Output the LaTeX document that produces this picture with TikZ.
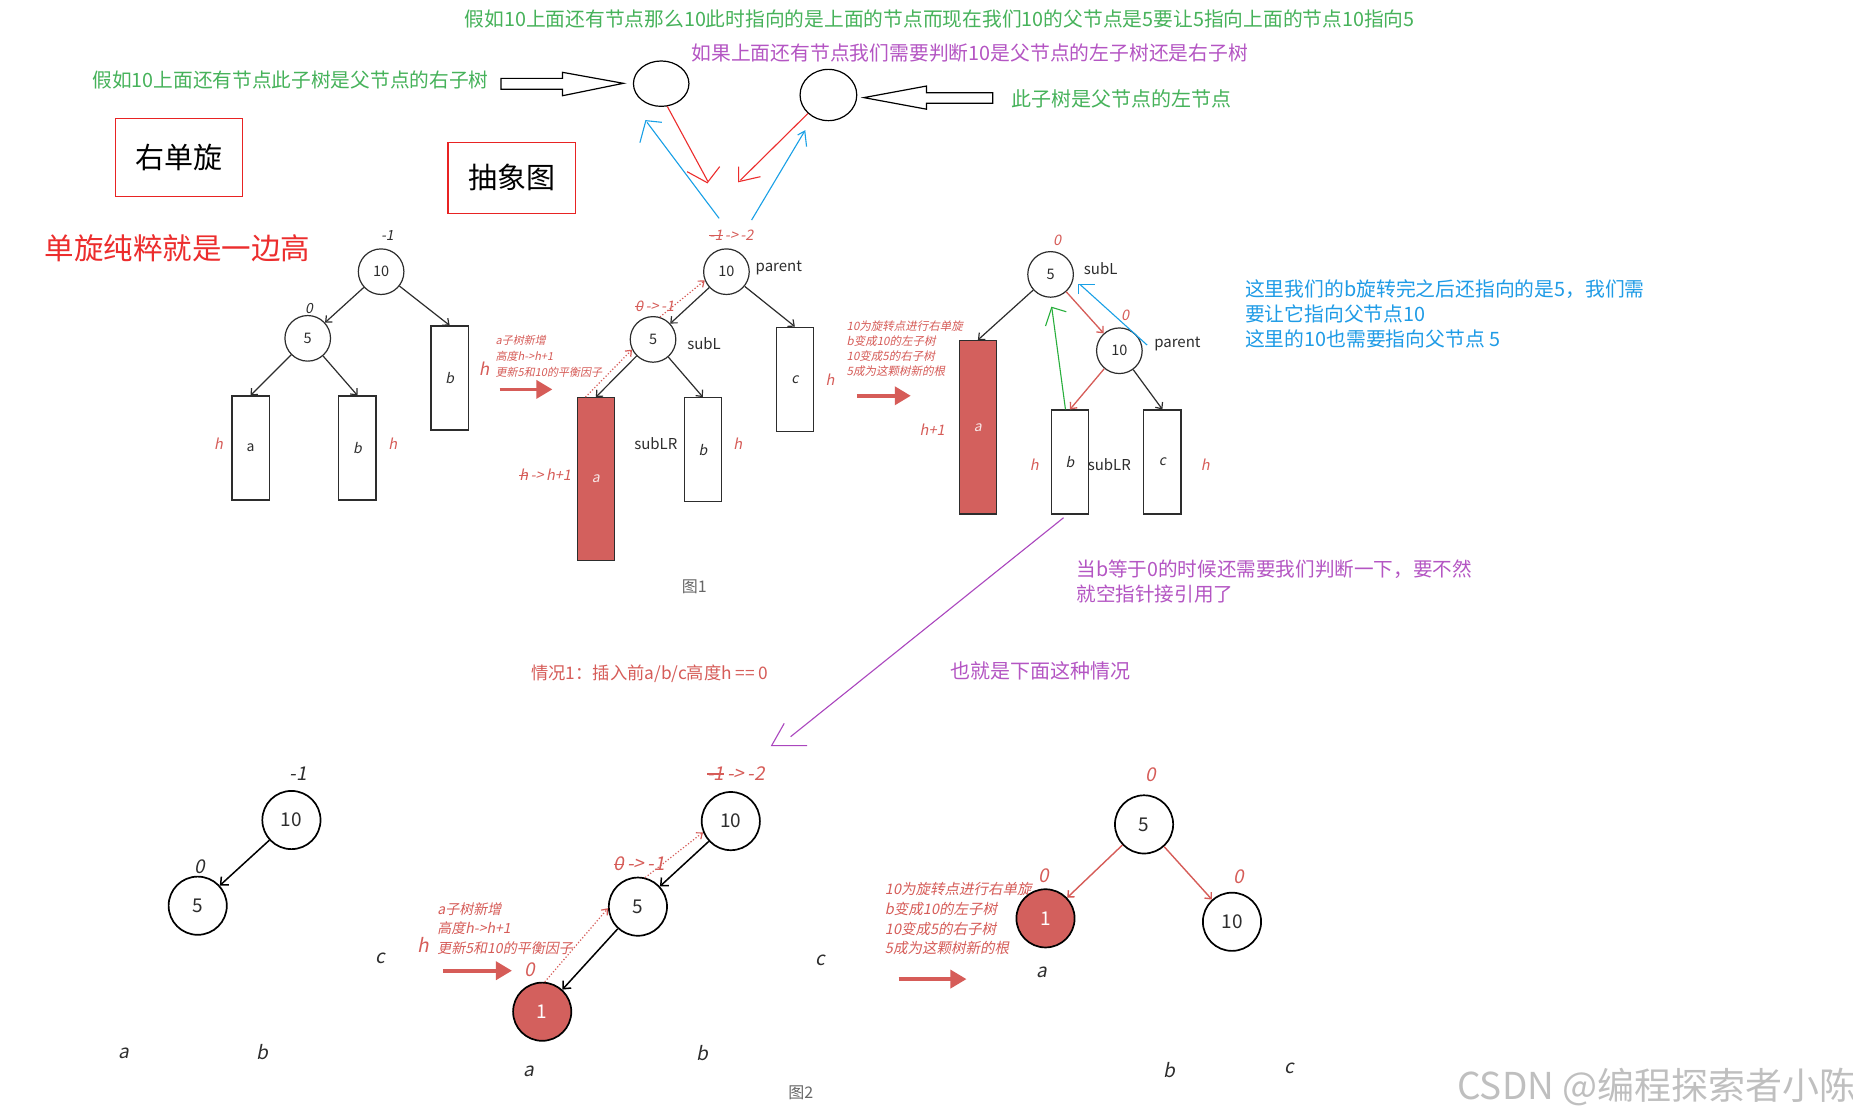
\documentclass[tikz,border=0pt]{standalone}
\usepackage{fontspec}
\setmainfont{Noto Sans CJK SC}
\newfontfamily\cjk{Noto Sans CJK SC}
\newfontfamily\cjkit[FakeSlant=0.2]{Noto Sans CJK SC}
\usetikzlibrary{arrows.meta,shapes.geometric,calc}
\newcommand\myfs[2]{\fontsize{#1}{#2}\selectfont}
\newsavebox\strkbox
\newcommand\strk[1]{\sbox\strkbox{#1}\rlap{\rule[0.3em]{\wd\strkbox}{0.07em}}\usebox\strkbox}
\definecolor{tgreen}{RGB}{70,178,90}
\definecolor{tpurple}{RGB}{180,85,195}
\definecolor{tblue}{RGB}{30,155,230}
\definecolor{bred}{RGB}{232,35,35}
\definecolor{sal}{RGB}{214,92,88}
\definecolor{salfill}{RGB}{211,96,93}
\definecolor{dk}{RGB}{45,45,45}
\definecolor{lgreen}{RGB}{40,175,60}
\definecolor{lpurple}{RGB}{170,70,190}
\definecolor{lblue}{RGB}{25,160,230}
\definecolor{lred}{RGB}{236,45,45}
\tikzset{
  tc/.style={circle,draw=dk,line width=1.2pt,minimum size=45.6pt,inner sep=0pt,font=\cjk\myfs{14.5}{14.5},text=dk},
  bc/.style={circle,draw=black,line width=1.7pt,minimum size=58.2pt,inner sep=0pt,font=\cjk\myfs{19}{19},text=dk},
  rc/.style={bc,fill=salfill,text=white},
  tb/.style={rectangle,draw=dk,line width=1.3pt,minimum width=37.3pt,minimum height=104pt,inner sep=0pt,font=\cjkit\myfs{14}{14},text=dk},
  rb/.style={tb,fill=salfill,text=white!85!salfill},
  lab/.style={inner sep=0pt,font=\cjk\myfs{15}{15},text=dk},
  ilab/.style={inner sep=0pt,font=\cjkit\myfs{14}{14},text=dk},
  blab/.style={inner sep=0pt,font=\cjkit\myfs{19}{19},text=dk},
  rlab/.style={inner sep=0pt,font=\cjkit\myfs{14.5}{14.5},text=sal},
  brlab/.style={inner sep=0pt,font=\cjkit\myfs{19}{19},text=sal},
  note/.style={inner sep=0pt,anchor=west,align=left,font=\cjk\myfs{20}{25}},
  smallred/.style={inner sep=0pt,anchor=west,align=left,text=sal},
  tarrow/.style={draw=dk,line width=1.2pt,-{Straight Barb[length=5pt,width=9pt]}},
  tarrowb/.style={draw=black,line width=1.5pt,-{Straight Barb[length=6pt,width=11pt]}},
  rarrow/.style={draw=sal,line width=1.3pt,-{Straight Barb[length=5pt,width=9pt]}},
  dotarrow/.style={draw=sal,line width=1.2pt,dotted,-{Straight Barb[length=5pt,width=8pt]}},
  fatarrow/.style={draw=sal,line width=3.6pt,-{Triangle[length=16pt,width=18pt]}},
  hand/.style={line width=1.1pt},
}
\begin{document}
\begin{tikzpicture}[x=1.1818pt,y=-1.1818pt]
\fill[white] (0,0) rectangle (1568,947.7);
\useasboundingbox (0,0) rectangle (1568,947.7);

% ---------- top annotations ----------
\node[note,text=tgreen,font=\cjk\myfs{19.75}{25}] (t1) at (393,16) {假如10上面还有节点那么10此时指向的是上面的节点而现在我们10的父节点是5要让5指向上面的节点10指向5};
\node[note,text=tpurple,font=\cjk\myfs{19.8}{25}] (t2) at (585,45) {如果上面还有节点我们需要判断10是父节点的左子树还是右子树};
\node[note,text=tgreen,font=\cjk\myfs{19.7}{25}] (t3) at (78,68) {假如10上面还有节点此子树是父节点的右子树};
\node[note,text=tgreen] (t4) at (856,84) {此子树是父节点的左节点};

\node[ellipse,draw=black,line width=1.2pt,minimum width=55.5pt,minimum height=45.4pt,inner sep=0pt] (eL) at (559.5,70.8) {};
\node[ellipse,draw=black,line width=1.2pt,minimum width=56.7pt,minimum height=51.3pt,inner sep=0pt] (eR) at (701,80.4) {};

\draw[line width=1.2pt] (424,66.3) -- (476,66.3) -- (476,61.2) -- (527.5,70.5) -- (476,81) -- (476,75.6) -- (424,75.6) -- cycle;
\draw[line width=1.2pt] (840,78.4) -- (784,78.4) -- (784,72.8) -- (731,82.6) -- (784,92.4) -- (784,87.4) -- (840,87.4) -- cycle;

% blue pointers
\coordinate (bl1s) at (608.5,184.8);
\coordinate (bl1e) at (547.5,103.5);
\draw[lblue,hand] (bl1s) -- (bl1e);
\draw[lblue,hand] (541.5,120.7) -- (546.5,102.1) -- (560,103.5);
\coordinate (bl2s) at (636,186.2);
\coordinate (bl2e) at (680.5,111.6);
\draw[lblue,hand] (bl2s) -- (bl2e);
\draw[lblue,hand] (675,114.2) -- (681,110.9) -- (682.5,124.1);
% red pointers
\coordinate (rl1e) at (599,153.5);
\draw[lred,hand] (eL.285) -- (rl1e);
\draw[lred,hand] (581.5,145.3) -- (598.5,154.6) -- (609,141);
\coordinate (rl2e) at (626.5,152.5);
\draw[lred,hand] (eR.222) -- (rl2e);
\draw[lred,hand] (625,141) -- (625,153.7) -- (643.5,149.5);

\node[draw=bred,line width=1.2pt,minimum width=127pt,minimum height=78.5pt,font=\cjk\myfs{29}{29}] (rdx) at (151.2,133.2) {右单旋};
\node[draw=bred,line width=1.2pt,minimum width=127.6pt,minimum height=71pt,font=\cjk\myfs{29}{29}] (cxt) at (433,150.5) {抽象图};
\node[inner sep=0pt,anchor=west,text=lred,font=\cjk\myfs{29.5}{29.5}] (ddx) at (37.5,210) {单旋纯粹就是一边高};

% ---------- figure 1, tree 1 ----------
\node[tc] (t1n10) at (322.5,229.9) {10};
\node[tc] (t1n5) at (260.4,286.3) {5};
\node[tb,font=\cjk\myfs{14}{14}] (t1a) at (212,379.2) {a};
\node[tb] (t1b) at (302.5,379.2) {b};
\node[tb] (t1c) at (380.5,319.9) {b};
\node[ilab] (t1l1) at (327.8,198.9) {-1};
\node[ilab] (t1l2) at (261.5,261) {0};
\node[rlab] (t1h1) at (185,375.8) {h};
\node[rlab] (t1h2) at (332.3,375.8) {h};
\node[rlab,font=\cjkit\myfs{17}{17}] (t1h3) at (409.5,311.7) {h};
\draw[tarrow] (t1n10) -- (t1n5);
\draw[tarrow] (t1n10) -- (t1c.north);
\draw[tarrow] (t1n5) -- (t1a.north);
\draw[tarrow] (t1n5) -- (t1b.north);

\node[smallred,font=\cjkit\myfs{11}{15.9}] (m1) at (419.3,301.2) {a子树新增\\高度h->h+1\\更新5和10的平衡因子};
\coordinate (fa1s) at (422.8,329.5);
\coordinate (fa1e) at (467.4,329.5);
\draw[fatarrow] (fa1s) -- (fa1e);

% ---------- figure 1, tree 2 ----------
\node[tc] (t2n10) at (614.7,229.9) {10};
\node[tc] (t2n5) at (552.6,287.2) {5};
\node[rb,minimum height=162.4pt] (t2a) at (504.2,405.3) {a};
\node[tb] (t2b) at (594.8,380.6) {b};
\node[tb] (t2c) at (672.6,320.9) {c};
\node[rlab] (t2l1) at (619,198.9) {\strk{-1}\,->\,-2};
\node[lab,anchor=west] (t2p) at (639.3,227) {parent};
\node[lab,anchor=west] (t2s) at (581.4,291) {subL};
\node[rlab] (t2l2) at (553.9,259) {\strk{0}\,->\,-1};
\node[rlab] (t2l3) at (461.3,402) {\strk{h}\,->\,h+1};
\node[lab] (t2lr) at (555,375.8) {subLR};
\node[rlab] (t2h1) at (624.2,375.8) {h};
\node[rlab] (t2h2) at (702.4,321.6) {h};
\draw[tarrow] (t2n10) -- (t2n5);
\draw[tarrow] (t2n10) -- (t2c.north);
\draw[tarrow] (t2n5) -- (t2a.north);
\draw[tarrow] (t2n5) -- (t2b.north);
\draw[dotarrow] ([xshift=-10.4pt]t2a.north) -- (t2n5.206);
\draw[dotarrow] (t2n5.73) -- (t2n10.202);

\node[smallred,font=\cjkit\myfs{11.5}{15.2}] (m2) at (716.3,295.1) {10为旋转点进行右单旋\\b变成10的左子树\\10变成5的右子树\\5成为这颗树新的根};
\coordinate (fa2s) at (725.1,334.9);
\coordinate (fa2e) at (770.7,334.9);
\draw[fatarrow] (fa2s) -- (fa2e);

% ---------- figure 1, tree 3 ----------
\node[tc] (t3n5) at (889,232.2) {5};
\node[tc] (t3n10) at (947.2,296.8) {10};
\node[rb,minimum height=173.4pt] (t3a) at (827.5,361.6) {a};
\node[tb] (t3b) at (905.4,391) {b};
\node[tb] (t3c) at (983.6,391) {c};
\node[rlab] (t3l1) at (894.5,203.1) {0};
\node[lab,anchor=west] (t3s) at (917,227) {subL};
\node[rlab] (t3l2) at (952,266.6) {0};
\node[lab,anchor=west] (t3p) at (976.6,291.4) {parent};
\node[rlab] (t3h0) at (788.8,363.9) {h+1};
\node[rlab] (t3h1) at (875.2,393.5) {h};
\node[lab] (t3lr) at (938.7,393.5) {subLR};
\node[rlab] (t3h2) at (1019.8,393.5) {h};
\draw[tarrow] (t3n5) -- (t3a.north);
\draw[rarrow] (t3n5) -- (t3n10);
\draw[rarrow] (t3n10) -- (t3b.north);
\draw[tarrow] (t3n10) -- (t3c.north);
% green pointer
\coordinate (g1e) at (890,260.1);
\draw[lgreen,hand] ([xshift=-4.5pt]t3b.north) -- (g1e);
\draw[lgreen,hand] (884.7,275.9) -- (890,260.1) -- (902.3,263.8);
% blue pointer
\coordinate (b3s) at (970.7,292);
\coordinate (b3e) at (914,240.8);
\draw[lblue,hand] (b3s) -- (b3e);
\draw[lblue,hand] (912.8,248.8) -- (912.8,240.6) -- (926.8,240.6);
% purple pointer
\coordinate (p1e) at (669,623.4);
\draw[lpurple,hand] ([xshift=-6.4pt,yshift=-3pt]t3b.south) -- (p1e);
\draw[lpurple,hand] (663.6,612.1) -- (652.9,631) -- (683,631);

\node[note,text=tblue,font=\cjk\myfs{19.8}{25}] (bt) at (1053.5,266) {这里我们的b旋转完之后还指向的是5，我们需\\要让它指向父节点10\\这里的10也需要指向父节点 5};
\node[note,text=tpurple,font=\cjk\myfs{19.6}{24.2}] (pt) at (910.8,492) {当b等于0的时候还需要我们判断一下，要不然\\就空指针接引用了};

\node[inner sep=0pt,text=black!60,font=\cjk\myfs{16}{16}] (fig1) at (587.5,496.4) {图1};
\node[inner sep=0pt,anchor=west,text=sal,font=\cjk\myfs{17.3}{17.3}] (case1) at (449.4,569.8) {情况1：插入前a/b/c高度h == 0};
\node[note,text=tpurple] (yj) at (804.5,567.8) {也就是下面这种情况};

% ---------- figure 2 ----------
\node[bc] (f1n10) at (246.6,693.9) {10};
\node[bc] (f1n5) at (167.3,766.4) {5};
\draw[tarrowb] (f1n10) -- (f1n5);
\node[blab] (f1l1) at (252.6,654.4) {-1};
\node[blab] (f1l2) at (169.4,733.4) {0};
\node[blab] (f1a) at (105.2,891.4) {a};
\node[blab] (f1b) at (222,890.5) {b};
\node[blab] (f1c) at (322,811) {c};

\node[smallred,font=\cjkit\myfs{14}{19.7}] (m3) at (370,785.8) {a子树新增\\高度h->h+1\\更新5和10的平衡因子};
\node[brlab] (f1h) at (357.8,799.7) {h};
\coordinate (fa3s) at (374.7,821.4);
\coordinate (fa3e) at (433.2,821.4);
\draw[fatarrow] (fa3s) -- (fa3e);

\node[bc] (f2n10) at (618.4,694.8) {10};
\node[bc] (f2n5) at (539.8,767.2) {5};
\node[rc] (f2n1) at (458.8,856.1) {1};
\node[brlab] (f2l1) at (622.7,654.4) {\strk{-1}\,->\,-2};
\node[brlab] (f2l2) at (540.8,731) {\strk{0}\,->\,-1};
\node[brlab] (f2l3) at (448.3,820.3) {0};
\node[blab] (f2a) at (447.3,906.3) {a};
\node[blab] (f2b) at (594.2,891.4) {b};
\node[blab] (f2c) at (693.9,812.4) {c};
\draw[tarrowb] (f2n10) -- (f2n5);
\draw[tarrowb] (f2n5) -- (f2n1);
\draw[dotarrow] (f2n1.85) -- (f2n5.183);
\draw[dotarrow] (f2n5.76) -- (f2n10.202);
\node[inner sep=0pt,text=black!60,font=\cjk\myfs{16}{16}] (fig2) at (677.7,924.7) {图2};

\node[smallred,font=\cjkit\myfs{14.5}{19.7}] (m4) at (748.7,777.6) {10为旋转点进行右单旋\\b变成10的左子树\\10变成5的右子树\\5成为这颗树新的根};
\coordinate (fa4s) at (760.4,828.5);
\coordinate (fa4e) at (817.8,828.5);
\draw[fatarrow] (fa4s) -- (fa4e);

\node[bc] (f3n5) at (968.1,697.6) {5};
\node[rc] (f3n1) at (884.7,777.1) {1};
\node[bc] (f3n10) at (1042.5,780) {10};
\draw[rarrow,line width=1.4pt] (f3n5) -- (f3n1);
\draw[rarrow,line width=1.4pt] (f3n5) -- (f3n10);
\node[brlab] (f3l1) at (973.4,655.3) {0};
\node[brlab] (f3l2) at (883.2,741.3) {0};
\node[brlab] (f3l3) at (1048.2,741.9) {0};
\node[blab] (f3a) at (882,822.8) {a};
\node[blab] (f3b) at (989.6,905.5) {b};
\node[blab] (f3c) at (1090.7,904.1) {c};

\node[inner sep=0pt,anchor=west,text=black!25,font=\cjk\myfs{37}{37}] (wm) at (1233,919.6) {CSDN @编程探索者小陈};
\end{tikzpicture}
\end{document}
